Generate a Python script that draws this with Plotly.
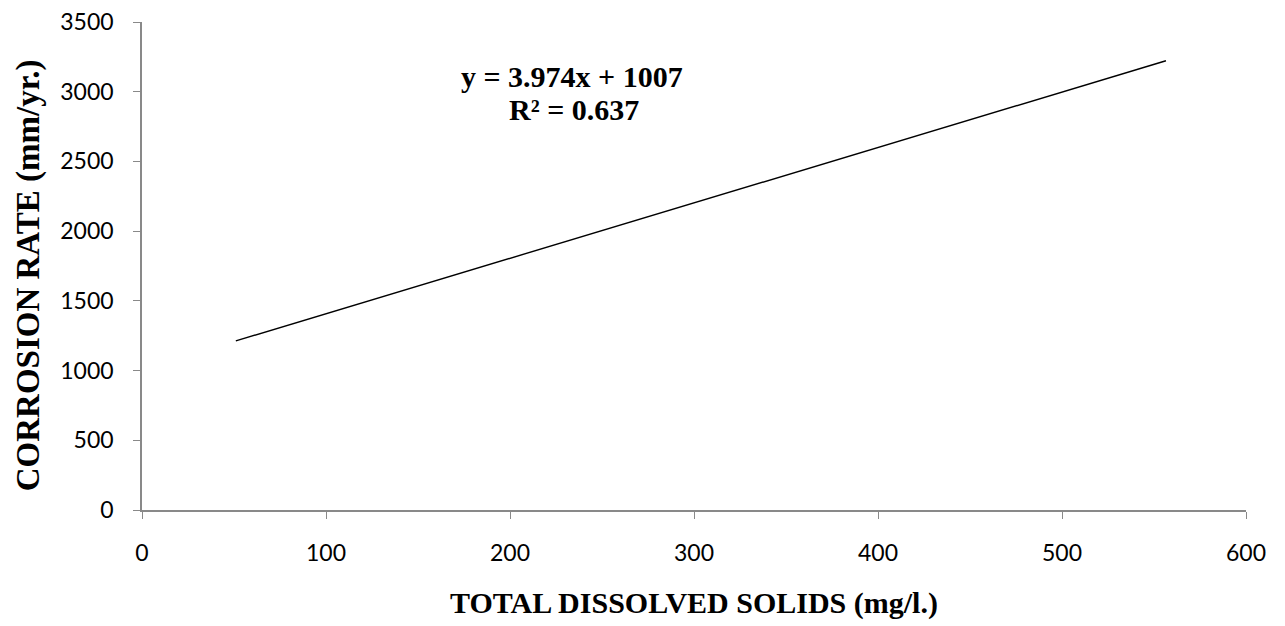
import plotly.graph_objects as go

tds = [51, 556.5]
corrosion_rate = [1213, 3222]
x_ticks = [0, 100, 200, 300, 400, 500, 600]
y_ticks = [0, 500, 1000, 1500, 2000, 2500, 3000, 3500]

# page body has an 8px margin; figure sized to fill the remaining window
OFF = 8
W, H = 1285 - OFF, 626 - OFF
L, R, T, B = 134, 39, 13.5, 116
PW, PH = W - L - R, H - T - B


def px(xs):
    return (xs - OFF - L) / PW


def py(ys):
    return (H - B - (ys - OFF)) / PH


fig = go.Figure()
fig.add_trace(go.Scatter(x=tds, y=corrosion_rate, mode="lines",
                         line=dict(color="black", width=1.4), showlegend=False))

axis_common = dict(showgrid=False, zeroline=False, showline=True, linecolor="#898989",
                   linewidth=1.5, ticks="outside", tickcolor="#898989", ticklen=7, tickwidth=1.3,
                   ticklabelstandoff=15, ticklabeloverflow="allow",
                   tickfont=dict(family="Lato, Open Sans, sans-serif", size=23, color="black"))

fig.update_xaxes(range=[0, 600], tickvals=x_ticks, ticktext=[str(v) for v in x_ticks], **axis_common)
fig.update_yaxes(range=[0, 3500], tickvals=y_ticks, ticktext=[str(v) for v in y_ticks], **axis_common)

serif = "Liberation Serif, Times New Roman, serif"
fig.update_layout(
    width=W, height=H, margin=dict(l=L, r=R, t=T, b=B, autoexpand=False),
    plot_bgcolor="white", paper_bgcolor="white",
    annotations=[
        dict(text="<b>TOTAL DISSOLVED SOLIDS (mg/l.)</b>", xref="paper", yref="paper",
             x=px(694), y=py(603), showarrow=False,
             font=dict(family=serif, size=30, color="black"),
             xanchor="center", yanchor="middle"),
        dict(text="<b>CORROSION RATE (mm/yr.)</b>", xref="paper", yref="paper",
             x=px(28), y=py(275), textangle=-90, showarrow=False,
             font=dict(family=serif, size=33, color="black"),
             xanchor="center", yanchor="middle"),
        dict(text="<b>y = 3.974x + 1007</b>", xref="paper", yref="paper",
             x=px(571.5), y=py(76), showarrow=False,
             font=dict(family=serif, size=30, color="black"),
             xanchor="center", yanchor="middle"),
        dict(text="<b>R² = 0.637</b>", xref="paper", yref="paper",
             x=px(574), y=py(109), showarrow=False,
             font=dict(family=serif, size=30, color="black"),
             xanchor="center", yanchor="middle"),
    ],
)

fig.write_html("out.html")
